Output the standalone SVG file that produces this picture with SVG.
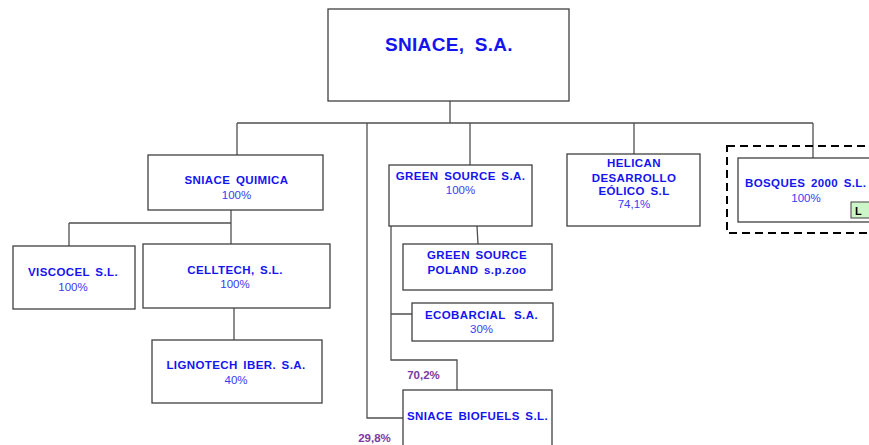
<svg xmlns="http://www.w3.org/2000/svg" width="869" height="445" viewBox="0 0 869 445">
<style>
.box{fill:#fff;stroke:#404040;stroke-width:1.3}
.ln{fill:none;stroke:#505050;stroke-width:1.3}
.nm{font-family:"Liberation Sans",Arial,sans-serif;font-weight:bold;font-size:11.5px;fill:#1414f0;text-anchor:middle;letter-spacing:0.4px;word-spacing:2px}
.pc{font-family:"Liberation Sans",Arial,sans-serif;font-size:11.5px;fill:#3a3af5;text-anchor:middle}
.pp{font-family:"Liberation Sans",Arial,sans-serif;font-weight:bold;font-size:11.5px;fill:#7a3aa0;text-anchor:middle}
</style>
<rect width="869" height="445" fill="#fff"/>
<g id="connectors">
<path class="ln" d="M450,101 V123 M237,123 H813 M237,123 V155 M367,123 V418 H403 M470,123 V165 M634,123 V154 M813,123 V158"/>
<path class="ln" d="M231,210 V244 M69,223 H231 M69,223 V246 M234,308 V340"/>
<path class="ln" d="M477,226 L478,244 M391,226 V360 H457 V390 M391,314 H412"/>
</g>
<g id="sniace">
<rect class="box" x="328" y="9" width="241" height="92"/>
<text class="nm" x="449" y="51" style="font-size:19px;letter-spacing:0.3px;word-spacing:5px">SNIACE, S.A.</text>
</g>
<g id="quimica">
<rect class="box" x="148" y="155" width="175" height="55"/>
<text class="nm" x="236.5" y="184">SNIACE QUIMICA</text>
<text class="pc" x="236.5" y="199">100%</text>
</g>
<g id="viscocel">
<rect class="box" x="13" y="246" width="122" height="63"/>
<text class="nm" x="73" y="276">VISCOCEL S.L.</text>
<text class="pc" x="73" y="291">100%</text>
</g>
<g id="celltech">
<rect class="box" x="143" y="244" width="187" height="64"/>
<text class="nm" x="235" y="274">CELLTECH, S.L.</text>
<text class="pc" x="235" y="288">100%</text>
</g>
<g id="lignotech">
<rect class="box" x="152" y="340" width="170" height="63"/>
<text class="nm" x="236" y="369">LIGNOTECH IBER. S.A.</text>
<text class="pc" x="236" y="384">40%</text>
</g>
<g id="greensource">
<rect class="box" x="389" y="165" width="143" height="61"/>
<text class="nm" x="460.5" y="180">GREEN SOURCE S.A.</text>
<text class="pc" x="460.5" y="194">100%</text>
</g>
<g id="gspoland">
<rect class="box" x="403" y="244" width="149" height="46"/>
<text class="nm" x="477" y="259">GREEN SOURCE</text>
<text class="nm" x="477" y="274">POLAND s.p.zoo</text>
</g>
<g id="ecobarcial">
<rect class="box" x="412" y="303" width="141" height="38"/>
<text class="nm" x="481.5" y="319" style="word-spacing:5px">ECOBARCIAL S.A.</text>
<text class="pc" x="481.5" y="333">30%</text>
</g>
<g id="biofuels">
<rect class="box" x="403" y="390" width="149" height="60"/>
<text class="nm" x="477.5" y="420">SNIACE BIOFUELS S.L.</text>
<text class="pp" x="423.5" y="379">70,2%</text>
<text class="pp" x="374.5" y="442">29,8%</text>
</g>
<g id="helican">
<rect class="box" x="567" y="154" width="133" height="72"/>
<text class="nm" x="634" y="167">HELICAN</text>
<text class="nm" x="634" y="182">DESARROLLO</text>
<text class="nm" x="634" y="195">EÓLICO S.L</text>
<text class="pc" x="634" y="208">74,1%</text>
</g>
<g id="bosques">
<rect x="727" y="146" width="150" height="87" fill="none" stroke="#000" stroke-width="2" stroke-dasharray="8,5"/>
<rect class="box" x="738" y="158" width="140" height="64"/>
<text class="nm" x="745" y="187" style="text-anchor:start">BOSQUES 2000 S.L.</text>
<text class="pc" x="806" y="202">100%</text>
<rect x="851" y="202" width="20" height="16" fill="#ccf5c8" stroke="#404040" stroke-width="1"/>
<text x="855" y="215" style="font-family:'Liberation Sans',Arial,sans-serif;font-weight:bold;font-size:11px;fill:#000">L</text>
</g>
</svg>
